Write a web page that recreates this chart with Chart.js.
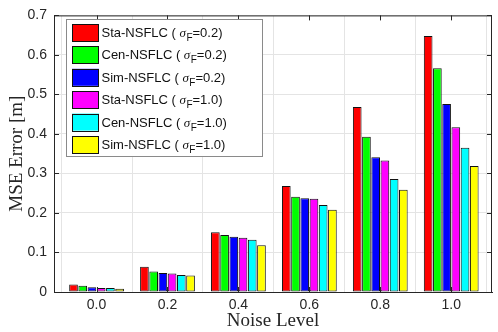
<!DOCTYPE html>
<html><head><meta charset="utf-8">
<script src="https://cdn.jsdelivr.net/npm/chart.js@4.4.0/dist/chart.umd.min.js"></script>
<style>html,body{margin:0;padding:0;background:#fff}</style>
</head><body>
<canvas id="c" width="498" height="332" style="width:498px;height:332px;display:block"></canvas>
<script>
const noiseLevels = [0.0, 0.2, 0.4, 0.6, 0.8, 1.0];
const seriesNames = ['Sta-NSFLC', 'Cen-NSFLC', 'Sim-NSFLC', 'Sta-NSFLC', 'Cen-NSFLC', 'Sim-NSFLC'];
const sigmaValues = ['0.2', '0.2', '0.2', '1.0', '1.0', '1.0'];
const staSigma02 = [0.019, 0.064, 0.151, 0.268, 0.468, 0.648];
const cenSigma02 = [0.016, 0.052, 0.144, 0.241, 0.393, 0.566];
const simSigma02 = [0.012, 0.048, 0.140, 0.237, 0.341, 0.476];
const staSigma10 = [0.010, 0.047, 0.137, 0.236, 0.333, 0.417];
const cenSigma10 = [0.010, 0.043, 0.132, 0.220, 0.286, 0.365];
const simSigma10 = [0.008, 0.042, 0.118, 0.208, 0.259, 0.319];
const yTickValues = [0, 0.1, 0.2, 0.3, 0.4, 0.5, 0.6, 0.7];
const colors = ['#ff0000', '#00ff00', '#0000ff', '#ff00ff', '#00ffff', '#ffff00'];

const allSeries = [staSigma02, cenSigma02, simSigma02, staSigma10, cenSigma10, simSigma10];
const datasets = allSeries.map((vals, i) => ({
  label: seriesNames[i] + ' ( σF=' + sigmaValues[i] + ')',
  data: vals.map((v, j) => ({x: noiseLevels[j], y: v})),
  backgroundColor: colors[i],
  borderColor: '#111',
  borderWidth: 1,
  borderSkipped: false,
  categoryPercentage: 0.78,
  barPercentage: 0.94
}));

const AX = '#262626';
const boxPlugin = {
  id: 'boxPlugin',
  afterDraw(chart) {
    const ctx = chart.ctx, a = chart.chartArea;
    const xs = chart.scales.x, ys = chart.scales.y;
    ctx.save();
    ctx.strokeStyle = AX; ctx.lineWidth = 1;
    ctx.beginPath();
    ctx.moveTo(a.left, a.top + 0.5); ctx.lineTo(a.right, a.top + 0.5);
    ctx.moveTo(a.right - 0.5, a.top); ctx.lineTo(a.right - 0.5, a.bottom);
    const L = 5;
    yTickValues.forEach(v => {
      const y = Math.round(ys.getPixelForValue(v)) + 0.5;
      ctx.moveTo(a.left, y); ctx.lineTo(a.left + L, y);
      ctx.moveTo(a.right, y); ctx.lineTo(a.right - L, y);
    });
    noiseLevels.forEach(v => {
      const x = Math.round(xs.getPixelForValue(v)) + 0.5;
      ctx.moveTo(x, a.bottom); ctx.lineTo(x, a.bottom - L);
      ctx.moveTo(x, a.top); ctx.lineTo(x, a.top + L);
    });
    ctx.stroke();

    // legend
    const lx = 66.5, ly = 19.5, lw = 196, lh = 137;
    ctx.fillStyle = '#fff';
    ctx.fillRect(lx, ly, lw, lh);
    ctx.strokeStyle = '#8a8a8a';
    ctx.strokeRect(lx, ly, lw, lh);
    const pitch = 22.4;
    datasets.forEach((ds, i) => {
      const top = 24 + i * pitch;
      ctx.fillStyle = colors[i];
      ctx.fillRect(72, top, 27, 17);
      ctx.strokeStyle = '#111';
      ctx.strokeRect(72.5, Math.round(top) + 0.5, 26, 17);
      const base = top + 13;
      let x = 101.5;
      ctx.fillStyle = '#111';
      ctx.textBaseline = 'alphabetic';
      ctx.textAlign = 'left';
      ctx.font = '13px "Liberation Sans", Arial, sans-serif';
      const t1 = seriesNames[i] + ' ( ';
      ctx.fillText(t1, x, base); x += ctx.measureText(t1).width;
      ctx.font = 'italic 13px "Liberation Serif", "Times New Roman", serif';
      ctx.fillText('σ', x, base); x += ctx.measureText('σ').width + 0.5;
      ctx.font = '10px "Liberation Sans", Arial, sans-serif';
      ctx.fillText('F', x, base + 4); x += ctx.measureText('F').width;
      ctx.font = '13px "Liberation Sans", Arial, sans-serif';
      ctx.fillText('=' + sigmaValues[i] + ')', x, base);
    });
    ctx.restore();
  }
};

new Chart(document.getElementById('c'), {
  type: 'bar',
  data: { datasets },
  options: {
    responsive: false,
    animation: false,
    parsing: true,
    layout: { padding: { left: 0, right: 6, top: 12, bottom: 0 } },
    plugins: { legend: { display: false }, tooltip: { enabled: false } },
    scales: {
      x: {
        type: 'linear',
        min: -0.12,
        max: 1.115,
        offset: false,
        afterFit(s) { s.height = 40; },
        afterBuildTicks(s) { s.ticks = noiseLevels.map(v => ({ value: v })); },
        ticks: {
          autoSkip: false, maxRotation: 0,
          callback: v => Number(v).toFixed(1),
          font: { family: '"Liberation Sans", Arial, sans-serif', size: 14 },
          color: AX, padding: 5
        },
        grid: { color: '#e4e4e4', drawTicks: false, lineWidth: 1 },
        border: { display: true, color: AX, width: 1 },
        title: {
          display: true, text: 'Noise Level', color: AX,
          font: { family: '"Liberation Serif", "Times New Roman", serif', size: 19 },
          padding: { top: 0, bottom: 0 }
        }
      },
      y: {
        min: 0, max: 0.7,
        afterFit(s) { s.width = 54; },
        afterBuildTicks(s) { s.ticks = yTickValues.map(v => ({ value: v })); },
        ticks: {
          callback: v => (v === 0 ? '0' : Number(v).toFixed(1)),
          font: { family: '"Liberation Sans", Arial, sans-serif', size: 14 },
          color: AX, padding: 7
        },
        grid: { color: '#e4e4e4', drawTicks: false, lineWidth: 1 },
        border: { display: true, color: AX, width: 1 },
        title: {
          display: true, text: 'MSE Error [m]', color: AX,
          font: { family: '"Liberation Serif", "Times New Roman", serif', size: 19 },
          padding: { top: 6, bottom: 0 }
        }
      }
    }
  },
  plugins: [boxPlugin]
});
</script>
</body></html>
